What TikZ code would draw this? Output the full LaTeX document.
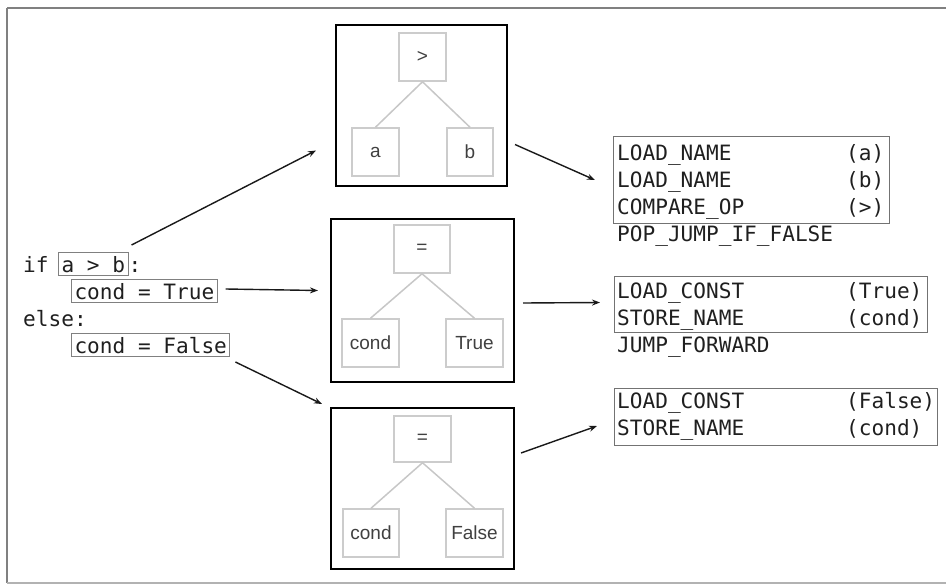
\documentclass[tikz,border=0pt]{standalone}
\usepackage{fontspec}
\setmainfont{Liberation Sans}
\setmonofont{DejaVu Sans Mono}
\usetikzlibrary{arrows.meta}

\begin{document}
\begin{tikzpicture}[x=1pt,y=-1pt,
  code/.style={font=\fontsize{21.1}{27}\selectfont\ttfamily, inner sep=0pt,
    anchor=base west, text=black!88},
  codebox/.style={code, draw=black!50, line width=1pt, inner xsep=3pt,
    inner ysep=0pt, text height=19.5pt, text depth=3.5pt},
  bcbox/.style={draw=black!55, line width=1pt, anchor=north west, inner sep=0pt},
  treebox/.style={draw=black, line width=2pt, anchor=north west, inner sep=0pt},
  leaf/.style={draw=black!20, line width=1.5pt, inner sep=0pt,
    font=\fontsize{19}{22}\selectfont, text=black!75},
  branch/.style={draw=black!22, line width=1.5pt},
  arr/.style={draw=black!90, line width=1.4pt, -{Stealth[length=8,width=6]}},
  frame/.style={draw=black!50, line width=2.2pt}]

\useasboundingbox (0,0) rectangle (946,584);
\draw[frame] (7,8) -- (956,8) (7,8) -- (7,583);
\draw[draw=black!30, line width=1.5pt] (7,583) -- (956,583);

% source code
\node[code] (kwif) at (23,272) {if};
\node[codebox] (ab) at (58,272) {a > b};
\node[code] (colon) at (ab.base east) {:};
\node[codebox] (ct) at (71,299) {cond = True};
\node[code] (kwelse) at (23,326) {else:};
\node[codebox] (cf) at (71,353) {cond = False};

% expression tree for a > b
\node[treebox, minimum width=171, minimum height=161] (t1) at (335,24) {};
\node[leaf, minimum width=47, minimum height=48] (t1o) at (422.5,57) {>};
\node[leaf, minimum width=47, minimum height=48] (t1a) at (375.5,152) {a};
\node[leaf, minimum width=46, minimum height=48] (t1b) at (470,152) {b};
\draw[branch] (t1o.south) -- (t1a.north) (t1o.south) -- (t1b.north);

% expression tree for cond = True
\node[treebox, minimum width=183, minimum height=163] (t2) at (330,218) {};
\node[leaf, minimum width=56, minimum height=48] (t2o) at (422,249) {=};
\node[leaf, minimum width=57, minimum height=48] (t2a) at (370.5,343) {cond};
\node[leaf, minimum width=57, minimum height=48] (t2b) at (474.5,343) {True};
\draw[branch] (t2o.south) -- (t2a.north) (t2o.south) -- (t2b.north);

% expression tree for cond = False
\node[treebox, minimum width=183, minimum height=161] (t3) at (330,407) {};
\node[leaf, minimum width=57, minimum height=46] (t3o) at (422.5,439) {=};
\node[leaf, minimum width=56, minimum height=48] (t3a) at (371,533) {cond};
\node[leaf, minimum width=57, minimum height=48] (t3b) at (474.5,533) {False};
\draw[branch] (t3o.south) -- (t3a.north) (t3o.south) -- (t3b.north);

% bytecode listings
\node[bcbox, minimum width=276, minimum height=87] (bc1) at (613,136) {};
\node[code] (i1) at (617,160) {LOAD\_NAME};
\node[code] (a1) at (846,160) {(a)};
\node[code] (i2) at (617,187) {LOAD\_NAME};
\node[code] (a2) at (846,187) {(b)};
\node[code] (i3) at (617,214) {COMPARE\_OP};
\node[code] (a3) at (846,214) {(>)};
\node[code] (i4) at (617,241) {POP\_JUMP\_IF\_FALSE};

\node[bcbox, minimum width=313, minimum height=56] (bc2) at (614,276) {};
\node[code] (j1) at (617,298.5) {LOAD\_CONST};
\node[code] (b1) at (846,298.5) {(True)};
\node[code] (j2) at (617,325) {STORE\_NAME};
\node[code] (b2) at (846,325) {(cond)};
\node[code] (j3) at (617,352) {JUMP\_FORWARD};

\node[bcbox, minimum width=323, minimum height=57] (bc3) at (614,388) {};
\node[code] (k1) at (617,408) {LOAD\_CONST};
\node[code] (c1) at (846,408) {(False)};
\node[code] (k2) at (617,435) {STORE\_NAME};
\node[code] (c2) at (846,435) {(cond)};

% connectors
\draw[arr] ([shift={(3,-7)}]ab.north east) -- ([shift={(-19,45)}]t1.west);
\draw[arr] ([shift={(8,-2)}]ct.east) -- ([shift={(-12,-10)}]t2.west);
\draw[arr] ([shift={(5,5)}]cf.south east) -- ([shift={(-8,-3)}]t3.north west);
\draw[arr] ([shift={(7,39)}]t1.east) -- ([shift={(-18,0)}]bc1.west);
\draw[arr] ([shift={(8,2.5)}]t2.east) -- ([shift={(-14,-2)}]bc2.west);
\draw[arr] ([shift={(6,-35.5)}]t3.east) -- ([shift={(-17,9)}]bc3.west);
\end{tikzpicture}
\end{document}
